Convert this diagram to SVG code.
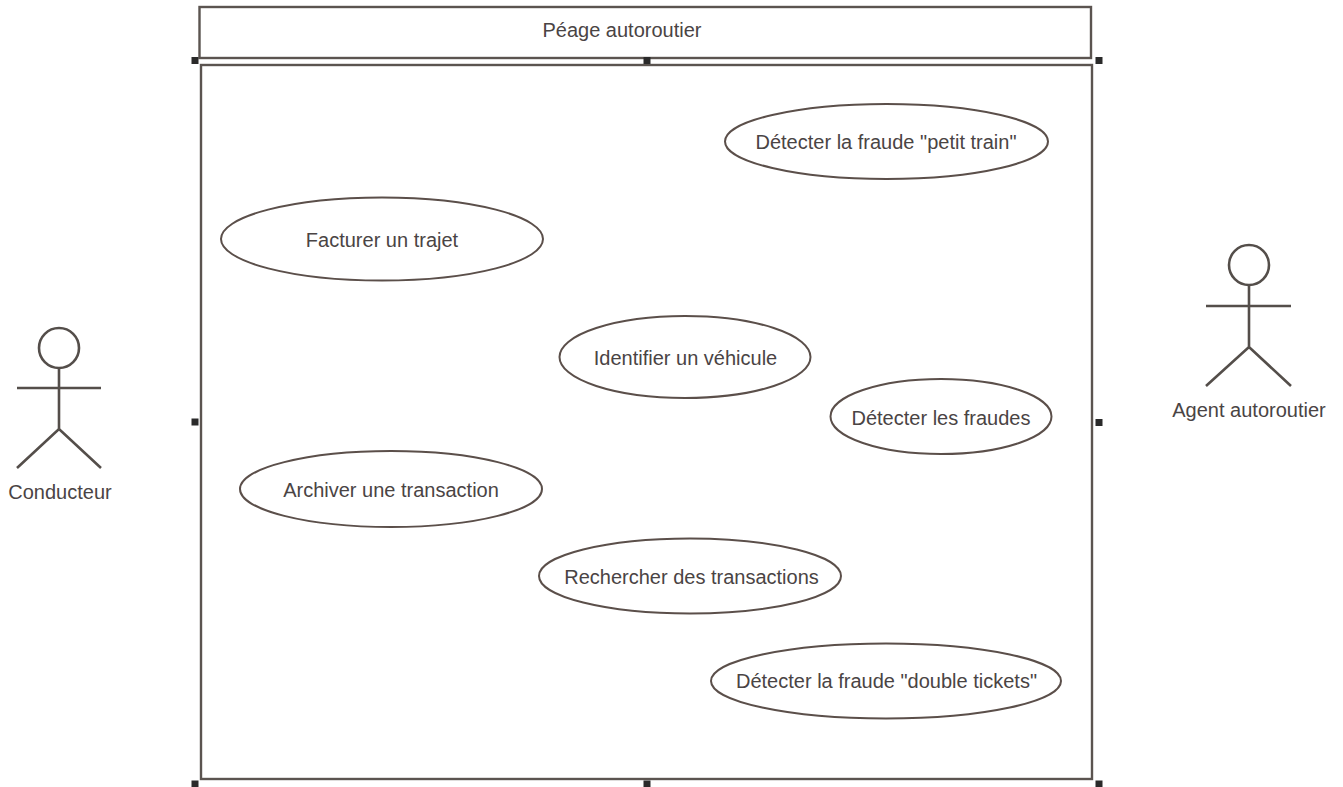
<svg xmlns="http://www.w3.org/2000/svg" width="1343" height="787" viewBox="0 0 1343 787">
<defs><style>
.s{fill:none;stroke:#5b5450;stroke-width:2.4}
.e{fill:#fff;stroke:#5b4f4a;stroke-width:2}
.a{fill:none;stroke:#544e4a;stroke-width:2.6}
.h{fill:#2a2a2a}
text{font-family:"Liberation Sans",Arial,sans-serif;font-size:20px;fill:#4a4444;text-anchor:middle}
</style></defs>
<rect width="1343" height="787" fill="#fff"/>
<g id="title"><rect class="s" x="199.500" y="7" width="891.500" height="51"/><text x="622" y="37">Péage autoroutier</text></g>
<g id="system"><rect class="s" x="201" y="65" width="891" height="714"/></g>
<g id="handles">
<rect class="h" x="191.500" y="57" width="7" height="7"/><rect class="h" x="643.500" y="57" width="7" height="7"/><rect class="h" x="1095.500" y="57" width="7" height="7"/>
<rect class="h" x="191.500" y="418.500" width="7" height="7"/><rect class="h" x="1095.500" y="419" width="7" height="7"/>
<rect class="h" x="191.500" y="780.500" width="7" height="7"/><rect class="h" x="643.500" y="780.500" width="7" height="7"/><rect class="h" x="1095.500" y="780.500" width="7" height="7"/>
</g>
<g id="uc-petit-train"><ellipse class="e" cx="886.500" cy="141.500" rx="161.500" ry="37.500"/><text x="886" y="149">Détecter la fraude "petit train"</text></g>
<g id="uc-facturer"><ellipse class="e" cx="382" cy="239" rx="161" ry="41.500"/><text x="382" y="247">Facturer un trajet</text></g>
<g id="uc-identifier"><ellipse class="e" cx="685" cy="357" rx="125.500" ry="41"/><text x="685.500" y="365">Identifier un véhicule</text></g>
<g id="uc-fraudes"><ellipse class="e" cx="941" cy="416.500" rx="110.500" ry="37.500"/><text x="941" y="425">Détecter les fraudes</text></g>
<g id="uc-archiver"><ellipse class="e" cx="391" cy="489" rx="151" ry="38"/><text x="391" y="497">Archiver une transaction</text></g>
<g id="uc-rechercher"><ellipse class="e" cx="690" cy="576" rx="151" ry="37.500"/><text x="691.500" y="584">Rechercher des transactions</text></g>
<g id="uc-double"><ellipse class="e" cx="886" cy="681" rx="175" ry="37.500"/><text x="886.500" y="688">Détecter la fraude "double tickets"</text></g>
<g id="actor-conducteur">
<circle class="a" cx="59" cy="348" r="20"/><path class="a" d="M59 368V429M17 388H101M17 468L59 429L101 468"/>
<text x="60" y="499">Conducteur</text></g>
<g id="actor-agent">
<circle class="a" cx="1249" cy="265" r="20"/><path class="a" d="M1249 285V347M1206 306H1291M1206 386L1249 347L1291 386"/>
<text x="1249" y="417">Agent autoroutier</text></g>
<g id="connectors"></g>
</svg>
